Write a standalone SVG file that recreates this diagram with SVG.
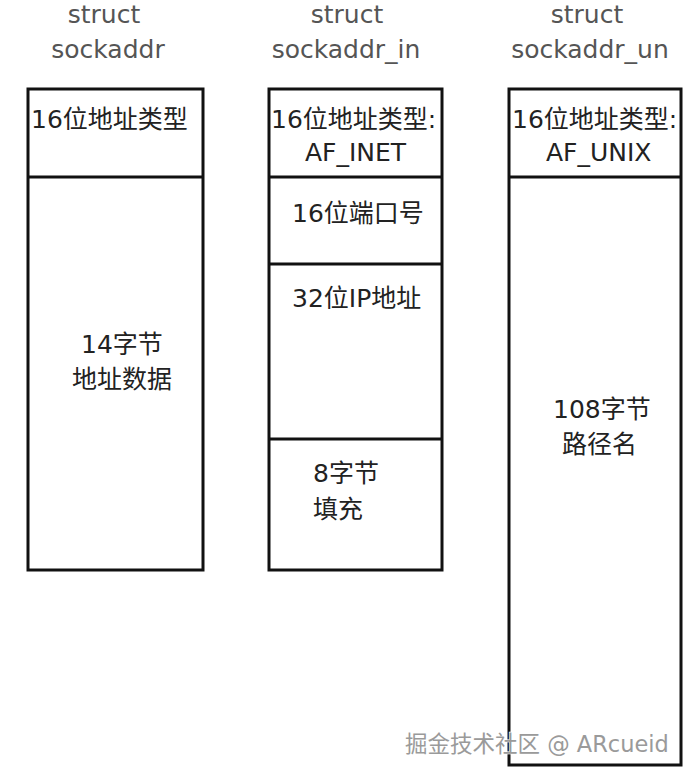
<svg xmlns="http://www.w3.org/2000/svg" width="695" height="778" viewBox="0 0 695 778">
<style>
.box{fill:#fff;stroke:#111;stroke-width:3}
.div{stroke:#111;stroke-width:3}
.title{font-family:"DejaVu Sans","Noto Sans CJK SC",sans-serif;font-size:25px;fill:#555}
.lbl{font-family:"DejaVu Sans","Noto Sans CJK SC",sans-serif;font-size:25px;fill:#222}
.wm{font-family:"DejaVu Sans","Noto Sans CJK SC",sans-serif;font-size:22.5px;fill:#9a9a9a;stroke:#fff;stroke-width:1.2;paint-order:stroke}
</style>
<rect width="695" height="778" fill="#fff"/>
<g id="sockaddr">
<text class="title" x="104" y="23" text-anchor="middle">struct</text>
<text class="title" x="108" y="58" text-anchor="middle">sockaddr</text>
<rect class="box" x="28" y="89" width="175" height="481"/>
<line class="div" x1="28" y1="177" x2="203" y2="177"/>
<text class="lbl" x="31" y="128">16位地址类型</text>
<text class="lbl" x="81" y="353">14字节</text>
<text class="lbl" x="72" y="388">地址数据</text>
</g>
<g id="sockaddr_in">
<text class="title" x="347" y="23" text-anchor="middle">struct</text>
<text class="title" x="346" y="58" text-anchor="middle">sockaddr_in</text>
<rect class="box" x="269" y="89" width="173" height="481"/>
<line class="div" x1="269" y1="177" x2="442" y2="177"/>
<line class="div" x1="269" y1="264" x2="442" y2="264"/>
<line class="div" x1="269" y1="439" x2="442" y2="439"/>
<text class="lbl" x="271" y="128">16位地址类型:</text>
<text class="lbl" x="305" y="161">AF_INET</text>
<text class="lbl" x="292" y="222">16位端口号</text>
<text class="lbl" x="292" y="307">32位IP地址</text>
<text class="lbl" x="313" y="482">8字节</text>
<text class="lbl" x="313" y="518">填充</text>
</g>
<g id="sockaddr_un">
<text class="title" x="587" y="23" text-anchor="middle">struct</text>
<text class="title" x="590" y="58" text-anchor="middle">sockaddr_un</text>
<rect class="box" x="509" y="89" width="172" height="676"/>
<line class="div" x1="509" y1="177" x2="681" y2="177"/>
<text class="lbl" x="512" y="128">16位地址类型:</text>
<text class="lbl" x="546" y="161">AF_UNIX</text>
<text class="lbl" x="553" y="418">108字节</text>
<text class="lbl" x="562" y="453">路径名</text>
</g>
<g id="connectors"></g>
<text class="wm" x="405" y="752">掘金技术社区 @ ARcueid</text>
</svg>
